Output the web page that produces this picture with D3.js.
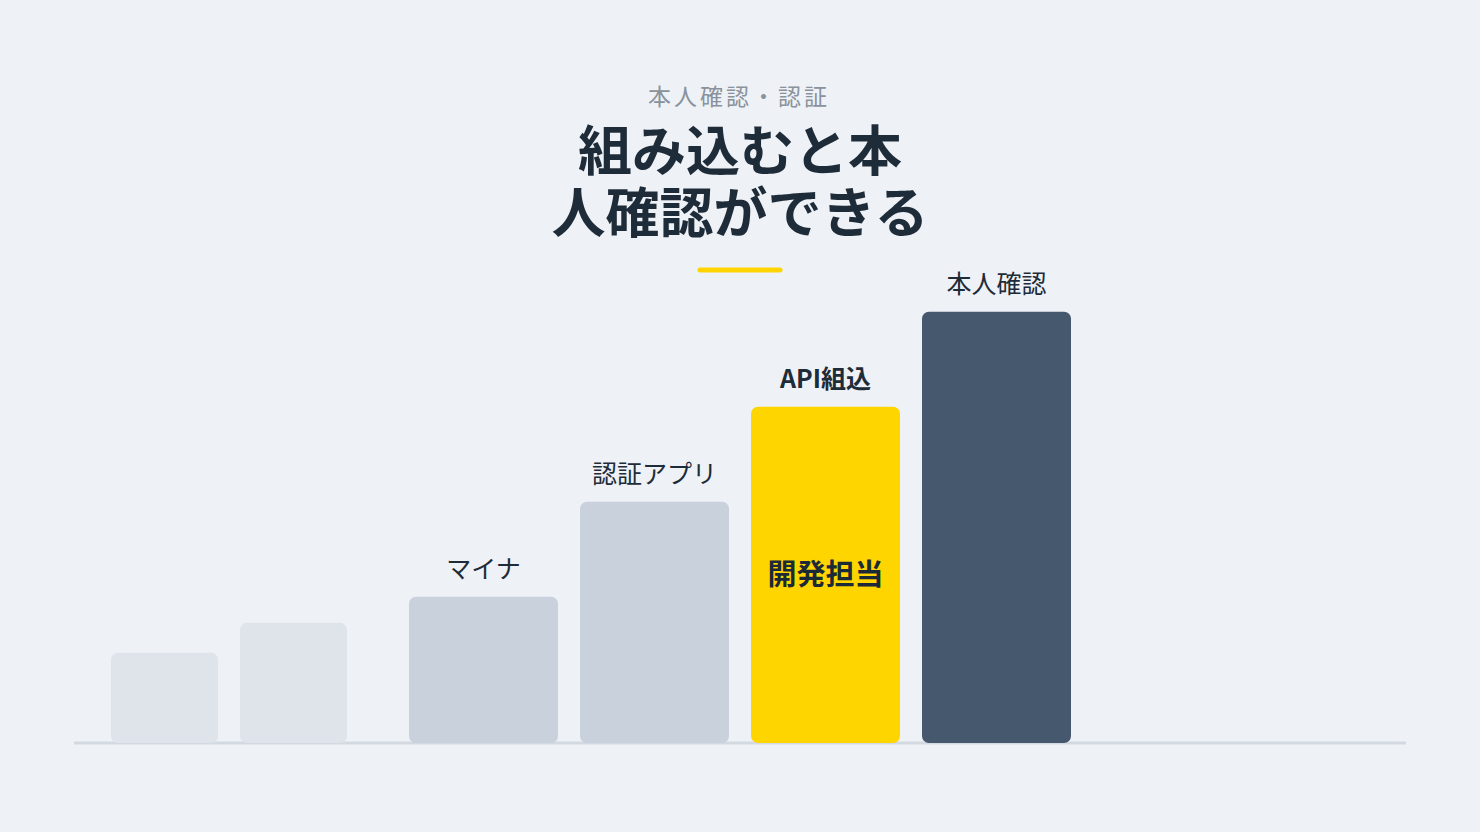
<!DOCTYPE html>
<html>
<head>
<meta charset="utf-8">
<script src="https://cdn.jsdelivr.net/npm/d3@7"></script>
<style>
  html, body { margin: 0; padding: 0; background: #eef1f6; }
  svg { display: block; font-family: "Noto Sans CJK JP", "Noto Sans", sans-serif; }
</style>
</head>
<body>
<script>
// ghost bars (no labels) on the left
const ghostKeys = ['g1', 'g2'];
const ghostValues = [19, 25.3];

// main steps
const stepLabels = ['マイナ', '認証アプリ', 'API組込', '本人確認'];
const stepValues = [30.8, 50.8, 70.8, 90.8];
const stepKinds = ['light', 'light', 'accent', 'dark'];
const innerLabel = '開発担当';

const kicker = '本人確認・認証';
const titleLines = ['組み込むと本', '人確認ができる'];

const width = 1480;
const height = 832;
const baseY = 743;

const svg = d3.select('body').append('svg')
  .attr('width', width)
  .attr('height', height);

svg.append('rect').attr('width', width).attr('height', height).attr('fill', '#eef1f6');

// 見出し
svg.append('text')
  .attr('x', 739).attr('y', 105)
  .attr('text-anchor', 'middle')
  .attr('font-size', 23)
  .attr('letter-spacing', 3)
  .attr('fill', '#8a929b')
  .text(kicker);

// 2行タイトルは1つのtextにまとめる
svg.append('text')
  .attr('text-anchor', 'middle')
  .attr('font-size', 54)
  .attr('font-weight', 700)
  .attr('fill', '#1e2b38')
  .selectAll('tspan')
  .data(titleLines)
  .join('tspan')
  .attr('x', 740)
  .attr('y', (d, i) => 171 + i * 62)
  .text(d => d);

svg.append('line')
  .attr('x1', 700).attr('x2', 780)
  .attr('y1', 270).attr('y2', 270)
  .attr('stroke', '#ffd400')
  .attr('stroke-width', 5)
  .attr('stroke-linecap', 'round');

// scales
const y = d3.scaleLinear().domain([0, 100]).range([baseY, baseY - 475]);

const xGhost = d3.scaleBand().domain(ghostKeys).range([111, 347]).paddingInner(22 / 129);
const xMain = d3.scaleBand().domain(stepLabels).range([409, 1071]).paddingInner(22 / 171);

const fills = { light: '#c9d1dc', accent: '#ffd500', dark: '#46586e' };

// baseline
svg.append('line')
  .attr('x1', 74).attr('x2', 1406)
  .attr('y1', baseY).attr('y2', baseY)
  .attr('stroke', '#d3d9e1')
  .attr('stroke-width', 3);

svg.append('g').selectAll('rect')
  .data(ghostValues)
  .join('rect')
  .attr('x', (d, i) => xGhost(ghostKeys[i]))
  .attr('y', d => y(d))
  .attr('width', xGhost.bandwidth())
  .attr('height', d => baseY - y(d))
  .attr('rx', 7)
  .attr('fill', '#dfe3ea');

const steps = stepLabels.map((label, i) => ({ label, value: stepValues[i], kind: stepKinds[i] }));

svg.append('g').selectAll('rect')
  .data(steps)
  .join('rect')
  .attr('x', d => xMain(d.label))
  .attr('y', d => y(d.value))
  .attr('width', xMain.bandwidth())
  .attr('height', d => baseY - y(d.value))
  .attr('rx', 7)
  .attr('fill', d => fills[d.kind]);

svg.append('g').selectAll('text')
  .data(steps)
  .join('text')
  .attr('x', d => xMain(d.label) + xMain.bandwidth() / 2)
  .attr('y', d => y(d.value) - 19)
  .attr('text-anchor', 'middle')
  .attr('font-size', 25)
  .attr('font-weight', d => d.kind === 'accent' ? 700 : 400)
  .attr('fill', '#1e2b38')
  .text(d => d.label);

// 黄色バーの中の文字
const acc = steps.find(d => d.kind === 'accent');
svg.append('text')
  .attr('x', xMain(acc.label) + xMain.bandwidth() / 2)
  .attr('y', 585)
  .attr('text-anchor', 'middle')
  .attr('font-size', 29)
  .attr('font-weight', 700)
  .attr('fill', '#1b2a36')
  .text(innerLabel);
</script>
</body>
</html>
